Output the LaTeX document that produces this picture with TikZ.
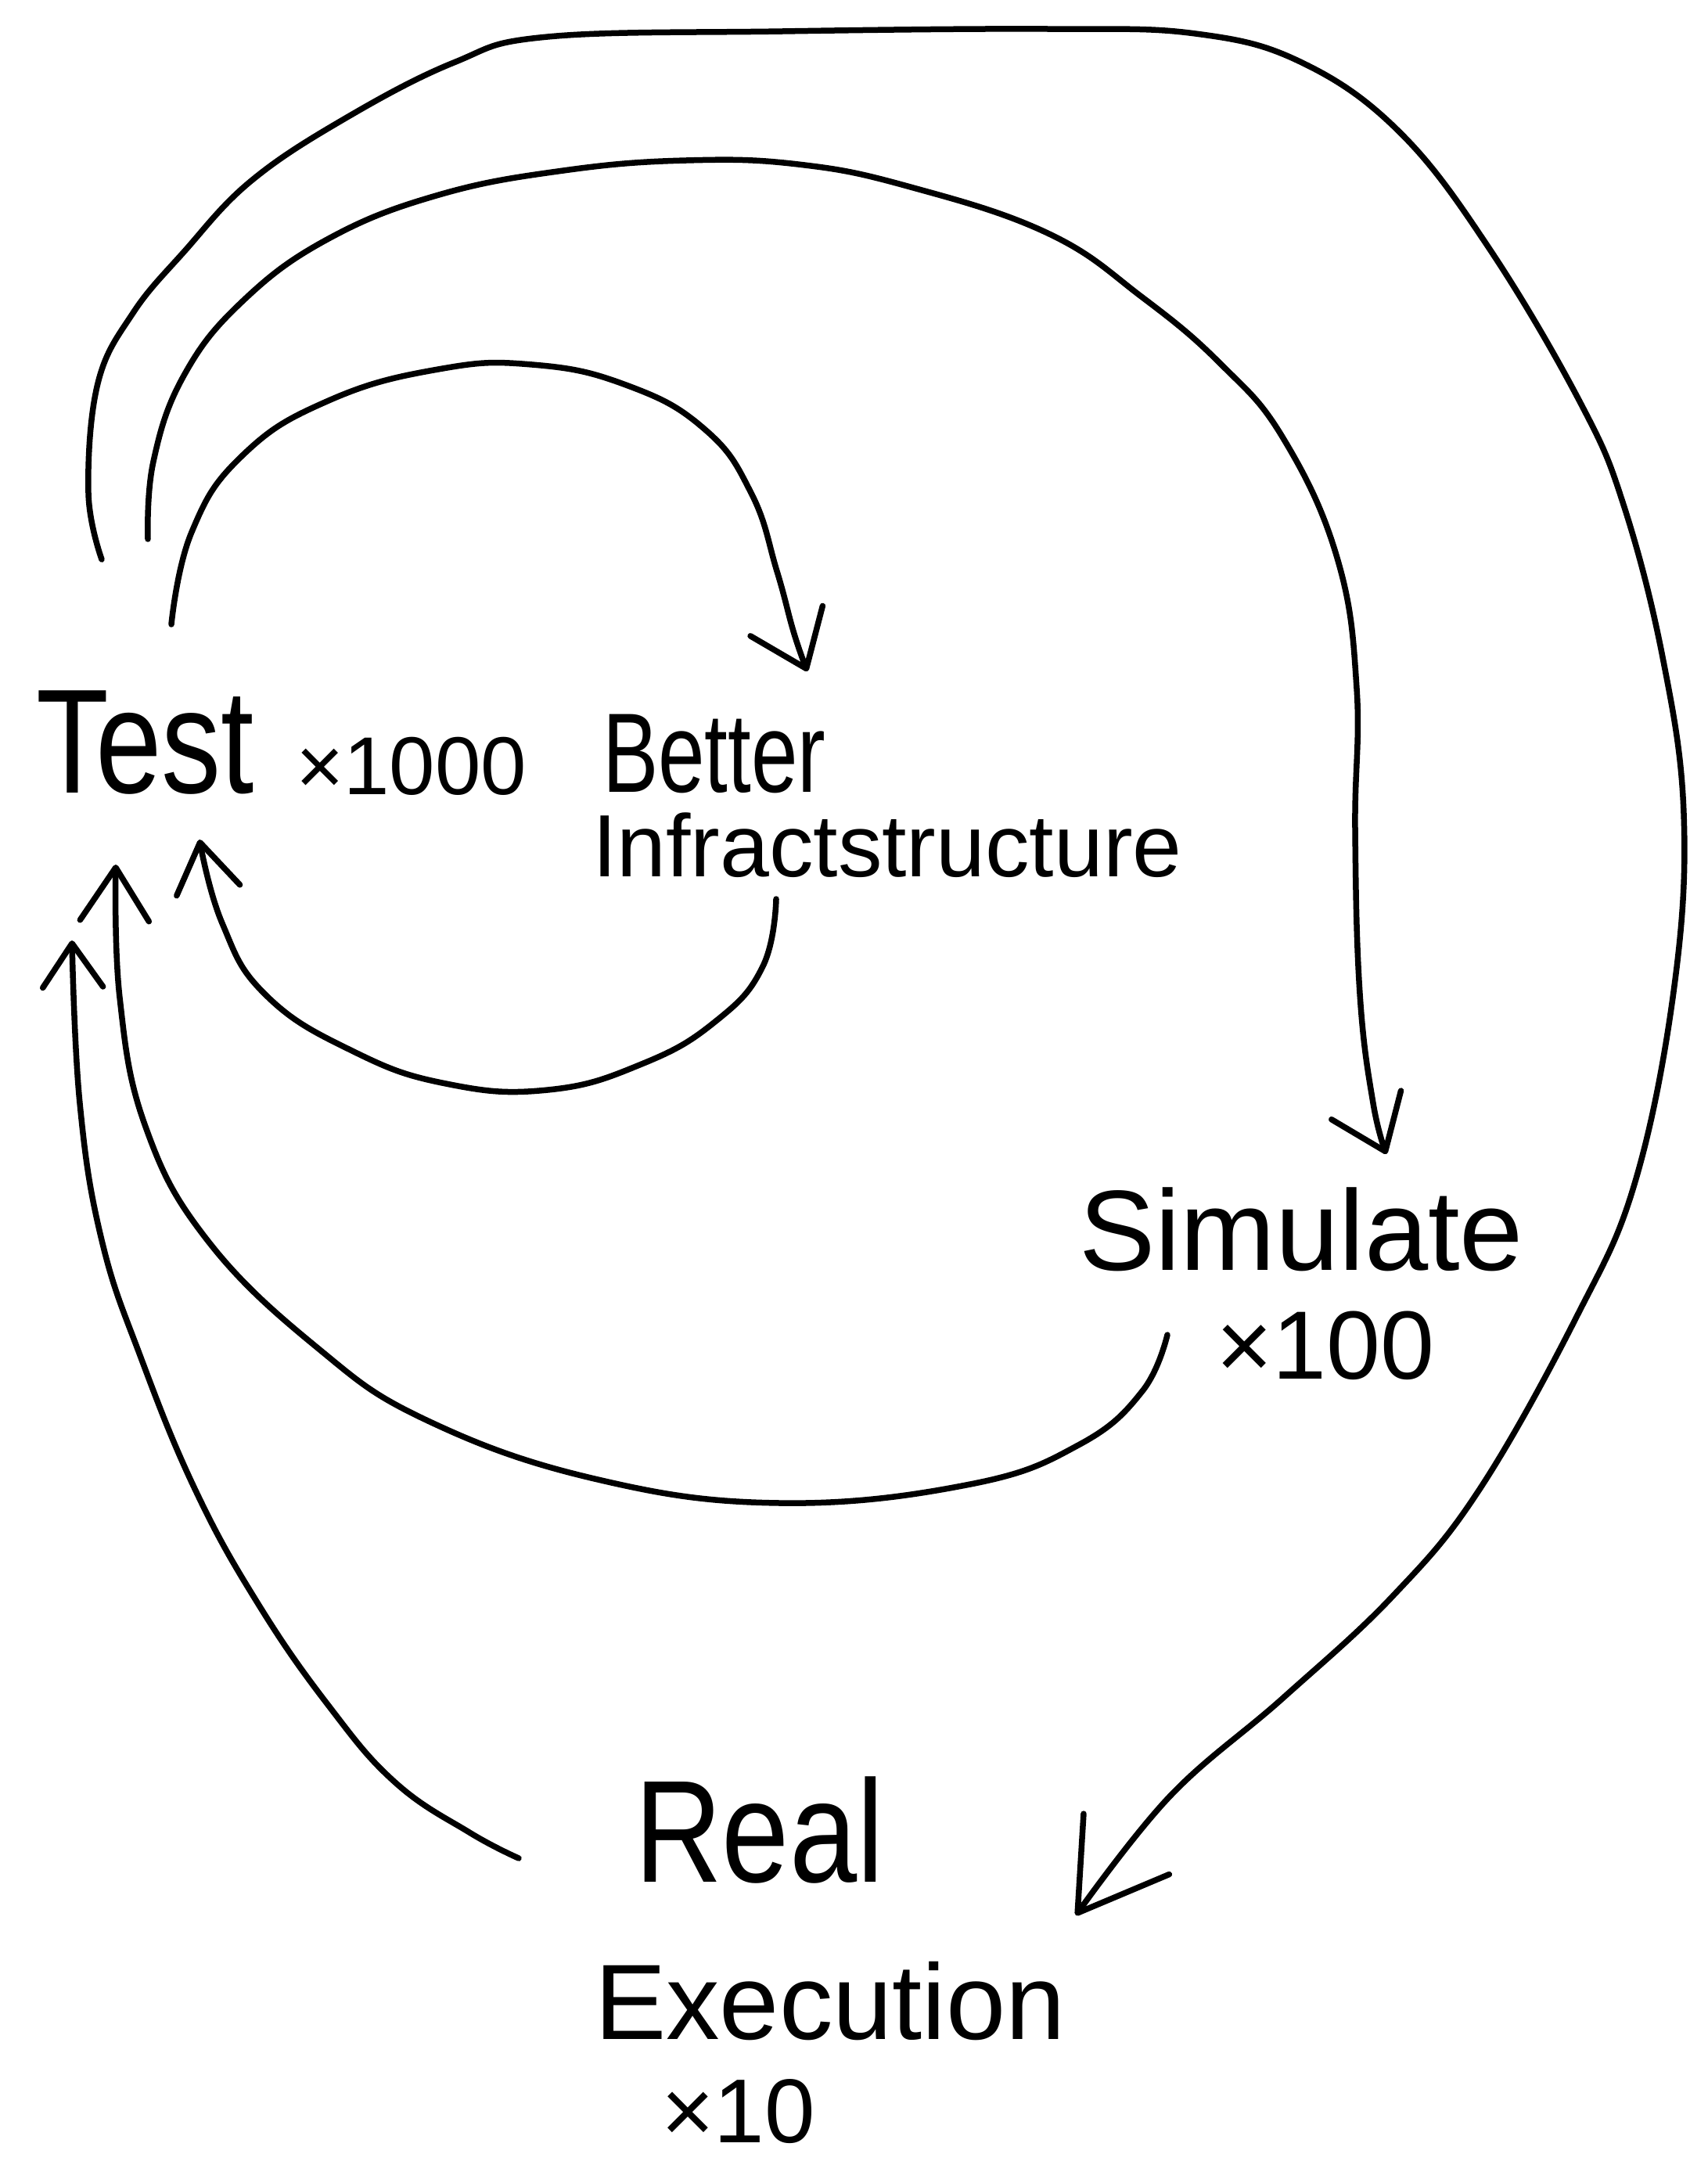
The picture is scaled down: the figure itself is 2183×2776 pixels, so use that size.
\documentclass[tikz,border=0pt]{standalone}
\usepackage{fontspec}
\setmainfont{Liberation Sans}
\usetikzlibrary{arrows.meta,calc}
\begin{document}
\begin{tikzpicture}[x=1pt,y=-1pt,
  lbl/.style={anchor=base west, inner sep=0pt, outer sep=0pt, text=black},
  conn/.style={draw=black, line width=7.5pt, line cap=round, line join=round},
  hd/.style 2 args={-{Straight Barb[length=#1pt,width=#2pt,round]}}]
\useasboundingbox (0,0) rectangle (2183,2776);
% texts
\node[lbl, font=\fontsize{152}{160}\selectfont] (test) at (46,1013) {\scalebox{1}[1.25]{Test}};
\node[lbl, font=\fontsize{105}{110}\selectfont] (x1000) at (378,1015) {×1000};
\node[lbl, font=\fontsize{107}{110}\selectfont] (better) at (770,1012) {\scalebox{1}[1.35]{Better}};
\node[lbl, font=\fontsize{113}{115}\selectfont] (infra) at (757,1120) {Infractstructure};
\node[lbl, font=\fontsize{146}{150}\selectfont] (sim) at (1379,1623) {Simulate};
\node[lbl, font=\fontsize{124}{130}\selectfont] (x100) at (1554,1762) {×100};
\node[lbl, font=\fontsize{155}{160}\selectfont] (real) at (811,2405) {\scalebox{1}[1.2]{Real}};
\node[lbl, font=\fontsize{137}{140}\selectfont] (exec) at (760,2606) {Execution};
\node[lbl, font=\fontsize{116}{120}\selectfont] (x10) at (845,2738) {×10};
% connector ends
\coordinate (aS) at ($(test.base west)+(173,-215)$);
\coordinate (aE) at ($(better.base west)+(262,-154)$);
\coordinate (bS) at ($(infra.base west)+(235,29)$);
\coordinate (bE) at ($(test.base west)+(209,60)$);
\coordinate (cS) at ($(test.base west)+(143,-324)$);
\coordinate (cE) at ($(sim.base west)+(393,-148)$);
\coordinate (dS) at ($(sim.base west)+(113,83)$);
\coordinate (dE) at ($(test.base west)+(102,92)$);
\coordinate (eS) at ($(test.base west)+(84,-298)$);
\coordinate (eE) at ($(real.base west)+(564,43)$);
\coordinate (fS) at ($(real.base west)+(-148,-30)$);
\coordinate (fE) at ($(test.base west)+(46,189)$);
% Test -> Better Infrastructure
\draw[conn, hd={66}{100}] plot[smooth, tension=0.75] coordinates {(aS) (245,680) (310,582) (420,512) (560,472) (680,466) (800,492) (900,548) (960,630) (993,730) (1015,810) (aE)};
% Infrastructure -> Test
\draw[conn, hd={62}{82}] plot[smooth, tension=0.75] coordinates {(bS) (975,1235) (915,1305) (820,1360) (700,1393) (570,1385) (450,1343) (340,1272) (284,1180) (bE)};
% Test -> Simulate
\draw[conn, hd={64}{96}] plot[smooth, tension=0.7] coordinates {(cS) (196,590) (235,480) (310,385) (420,305) (561,249) (720,218) (877,205) (1020,210) (1160,238) (1339,298) (1460,380) (1560,465) (1640,560) (1709,713) (1734,880) (1732,1060) (1738,1270) (1755,1410) (cE)};
% Simulate -> Test
\draw[conn, hd={68}{88}] plot[smooth, tension=0.7] coordinates {(dS) (1460,1778) (1380,1846) (1240,1897) (997,1921) (760,1890) (545,1815) (405,1722) (265,1585) (186,1440) (153,1275) (dE)};
% Test -> Real Execution
\draw[conn, hd={108}{134}] plot[smooth, tension=0.65] coordinates {(eS) (113,630) (125,490) (170,400) (235,322) (320,232) (440,152) (580,80) (700,47) (1000,40) (1339,37) (1528,43) (1664,80) (1790,170) (1905,320) (2020,515) (2075,645) (2125,840) (2152,1040) (2140,1260) (2090,1510) (2015,1683) (1890,1905) (1780,2040) (1640,2170) (1495,2296) (eE)};
% Real Execution -> Test
\draw[conn, hd={56}{77}] plot[smooth, tension=0.7] coordinates {(fS) (600,2342) (505,2278) (420,2180) (330,2050) (250,1905) (180,1735) (130,1585) (102,1410) (fE)};
\end{tikzpicture}
\end{document}
